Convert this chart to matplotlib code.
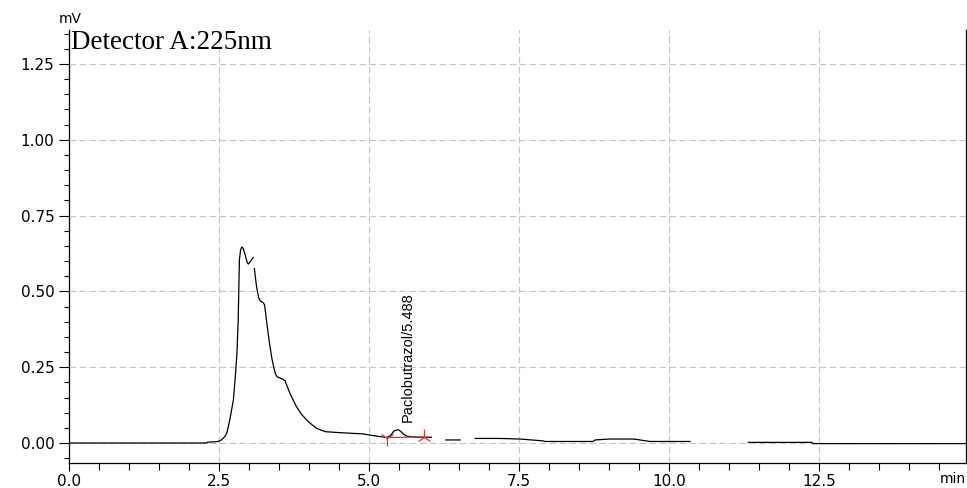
import numpy as np
import matplotlib
matplotlib.use("Agg")
import matplotlib.pyplot as plt
from matplotlib import font_manager
from matplotlib.ticker import MultipleLocator

# Chromatogram trace, detector A at 225 nm (NaN = break in the recorded trace)
time_min = [0.0, 2.30, 2.31, 2.45, 2.50, 2.54, 2.60, 2.63, 2.68, 2.72, 2.74, 2.78, 2.80,
            2.82, 2.84, 2.86, 2.88, 2.90, 2.93, 2.97, 2.99, 3.02, 3.05, 3.07, 3.08,
            3.09, 3.11, 3.13, 3.16, 3.19, 3.24, 3.26, 3.29, 3.32, 3.35, 3.38, 3.41,
            3.44, 3.47, 3.55, 3.60, 3.64, 3.68, 3.74, 3.79, 3.87, 3.96, 4.05, 4.13,
            4.22, 4.29, 4.52, 4.90, 5.02, 5.15, 5.30, 5.36, 5.42, 5.488, 5.53, 5.58,
            5.64, 5.79, 6.04, 6.10, 6.28, 6.52, 6.60, 6.77, 7.18, 7.52, 7.90, 7.93,
            8.73, 8.77, 9.00, 9.40, 9.45, 9.68, 10.35, 10.40, 11.32, 12.38, 12.40, 14.95]
signal_mv = [0.000, 0.000, 0.003, 0.004, 0.006, 0.010, 0.022, 0.033, 0.076, 0.120, 0.142,
             0.240, 0.300, 0.406, 0.604, 0.637, 0.646, 0.643, 0.625, 0.595, 0.590, 0.598,
             0.606, 0.612, np.nan, 0.575, 0.540, 0.510, 0.480, 0.468, 0.462, 0.455, 0.406,
             0.360, 0.318, 0.280, 0.252, 0.228, 0.218, 0.212, 0.205, 0.185, 0.165, 0.140,
             0.120, 0.096, 0.076, 0.060, 0.048, 0.041, 0.037, 0.034, 0.030, 0.026, 0.022,
             0.018, 0.025, 0.040, 0.044, 0.038, 0.028, 0.022, 0.019, 0.019, np.nan, 0.010,
             0.010, np.nan, 0.015, 0.015, 0.013, 0.007, 0.005, 0.005, 0.010, 0.013, 0.013,
             0.012, 0.005, 0.005, np.nan, 0.002, 0.002, -0.002, -0.002]

# Integrated peak: start/end of baseline and label
peak_name = "Paclobutrazol"
peak_rt = 5.488
peak_bounds_t = [5.30, 5.92]
peak_bounds_y = [0.018, 0.020]

x_ticks = [0.0, 2.5, 5.0, 7.5, 10.0, 12.5]
y_ticks = [0.00, 0.25, 0.50, 0.75, 1.00, 1.25]

names = {f.name for f in font_manager.fontManager.ttflist}
if "Liberation Sans Narrow" in names:
    label_family, label_size = "Liberation Sans Narrow", 12.5
else:
    label_family, label_size = "Liberation Sans", 10.5

fig = plt.figure(figsize=(9.67, 4.88), dpi=100)
ax = fig.add_axes([69 / 967, 1 - 463 / 488, (966 - 69) / 967, (463 - 30) / 488])

ax.plot(time_min, signal_mv, color="black", linewidth=0.9, zorder=3)

# peak baseline and start/end marks
ax.plot(peak_bounds_t, peak_bounds_y, color="#e03030", linewidth=0.9, zorder=4)
ax.plot(peak_bounds_t[0], peak_bounds_y[0], marker="1", color="#e03030",
        markersize=11, markeredgewidth=0.9, zorder=4)
ax.plot(peak_bounds_t[1], peak_bounds_y[1], marker="2", color="#e03030",
        markersize=11, markeredgewidth=0.9, zorder=4)
ax.text(5.65, 0.068, f"{peak_name}/{peak_rt:.3f}", rotation=90, ha="center", va="bottom",
        family=label_family, fontsize=label_size, color="black")

ax.set_xlim(0, 14.95)
ax.set_ylim(-0.066, 1.362)
ax.set_xticks(x_ticks)
ax.set_xticklabels([f"{v:.1f}" for v in x_ticks])
ax.set_yticks(y_ticks)
ax.set_yticklabels([f"{v:.2f}" for v in y_ticks])
ax.xaxis.set_minor_locator(MultipleLocator(0.5))
ax.yaxis.set_minor_locator(MultipleLocator(0.05))

ax.tick_params(axis="both", which="both", direction="out", color="black", width=0.8,
               labelsize=11, labelcolor="black")
ax.tick_params(axis="y", which="major", length=7, pad=3.5)
ax.tick_params(axis="y", which="minor", length=3.6)
ax.tick_params(axis="x", which="major", length=5.5, pad=2.5)
ax.tick_params(axis="x", which="minor", length=5)
for lab in ax.get_xticklabels() + ax.get_yticklabels():
    lab.set_family("DejaVu Sans")

ax.grid(True, which="major", color="#c4c4c4", linestyle=(0, (6, 3)), linewidth=0.8)
ax.set_axisbelow(True)
ax.spines["top"].set_visible(False)
for side in ("left", "right", "bottom"):
    ax.spines[side].set_linewidth(0.9)

fig.text(70 / 967, 1 - 19 / 488, "mV", ha="center", va="center", fontsize=10,
         family="DejaVu Sans")
fig.text(966 / 967, 1 - 479 / 488, "min", ha="right", va="center", fontsize=10,
         family="DejaVu Sans")
ax.text(0.002, 1.0, "Detector A:225nm", transform=ax.transAxes, ha="left", va="top",
        family="Liberation Serif", fontsize=19.5)

fig.savefig("out.png", dpi=100)
